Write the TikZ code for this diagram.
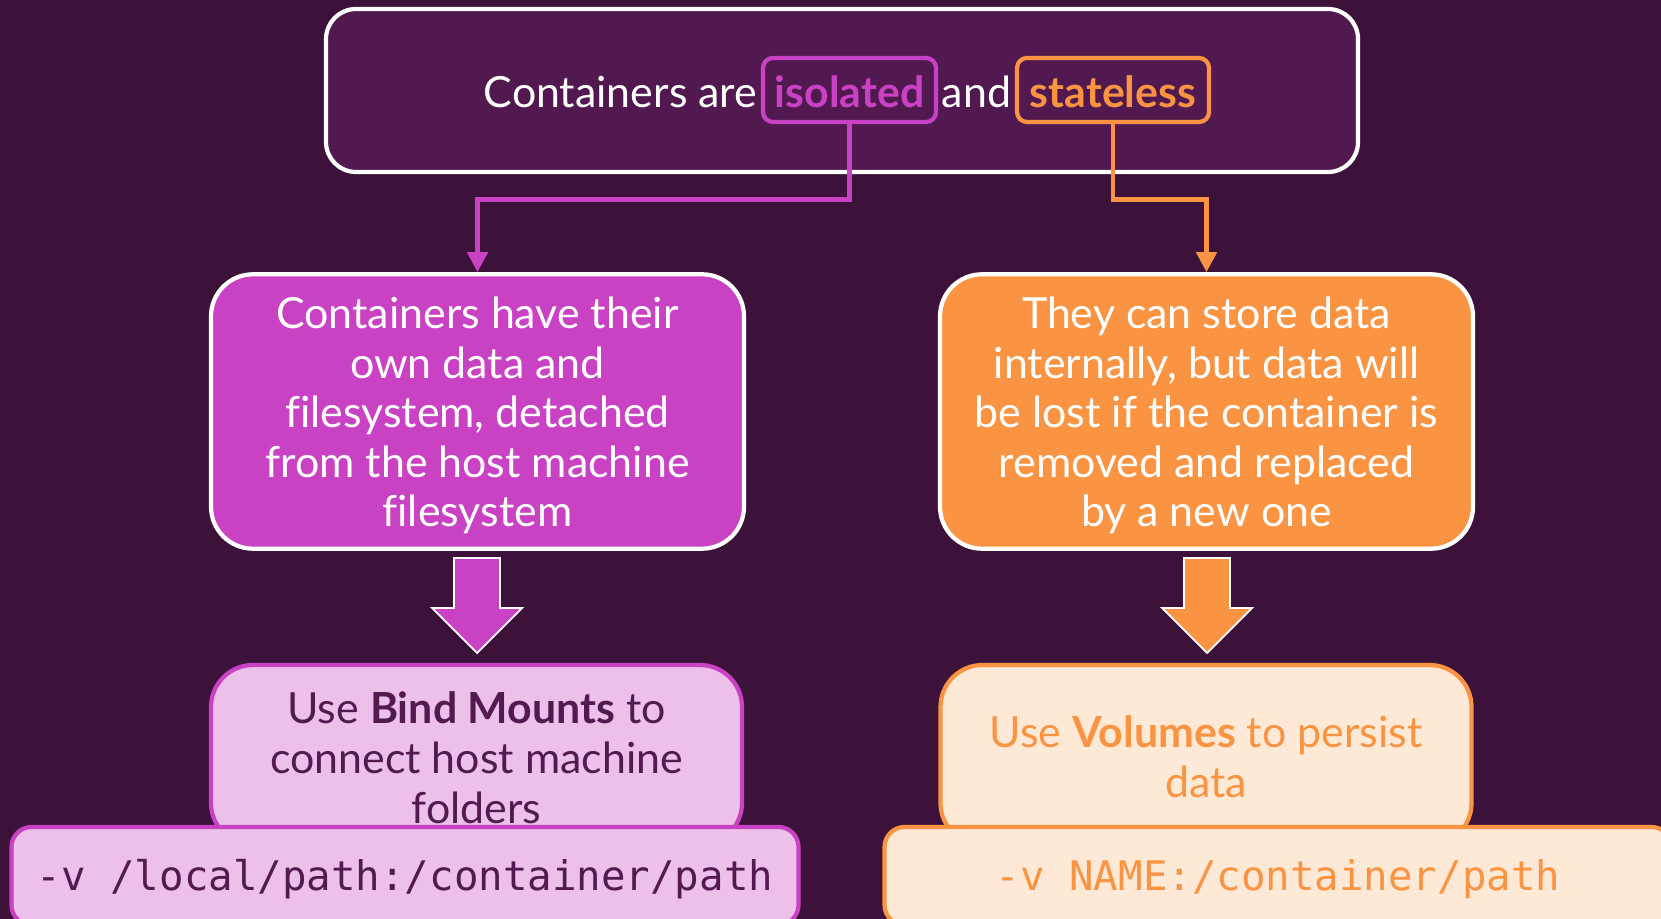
\documentclass[tikz,border=0pt]{standalone}
\usepackage{fontspec}
\setmainfont{Lato}[Ligatures={TeX,NoCommon}]
\setmonofont{DejaVu Sans Mono}
\usetikzlibrary{positioning,calc,arrows.meta}

\definecolor{bgpurple}{RGB}{60,18,58}
\definecolor{toppurple}{RGB}{82,25,80}
\definecolor{magC}{RGB}{202,66,196}
\definecolor{oraC}{RGB}{250,148,66}
\definecolor{magL}{RGB}{237,192,234}
\definecolor{oraL}{RGB}{254,232,214}
\definecolor{darkpurple}{RGB}{82,26,79}

\tikzset{
  bodyfont/.style={font=\fontsize{12.2}{14.1}\selectfont},
  wordbox/.style={draw=#1, text=#1, line width=1.2pt, rounded corners=0.1cm,
    minimum height=0.64cm, inner sep=0pt, text height=0.35cm, text depth=0cm,
    font=\fontsize{12.2}{14.1}\selectfont\bfseries},
  infobox/.style={fill=#1, draw=white, line width=1.2pt, rounded corners=0.42cm,
    minimum width=5.33cm, minimum height=2.71cm, align=center, text=white,
    text height=2.41cm, text depth=0.1cm, bodyfont},
  hintbox/.style={fill=#1L, draw=#1C, line width=1.2pt, rounded corners=0.42cm,
    minimum width=5.31cm, minimum height=1.8cm, align=center, text depth=0.1cm, bodyfont},
  codebox/.style={fill=#1L, draw=#1C, line width=1.2pt, rounded corners=0.2cm,
    minimum width=7.87cm, minimum height=0.98cm, text height=0.33cm, text depth=0.05cm,
    font=\fontsize{11.6}{14}\selectfont\ttfamily},
  link/.style={line width=1.3pt, -{Triangle[length=0.2cm,width=0.2cm]}}
}

\begin{document}
\begin{tikzpicture}
% Background
\useasboundingbox (0,0) rectangle (16.61,-9.19);
\fill[bgpurple] (0,0) rectangle (16.61,-9.19);
\clip (0,0) rectangle (16.61,-9.19);

% Title box
\node[draw=white, line width=1.2pt, fill=toppurple, rounded corners=0.3cm,
  minimum width=10.32cm, minimum height=1.63cm] (top) at (8.42,-0.905) {};
\node[wordbox=magC, minimum width=1.73cm] (iso) at (8.495,-0.90) {isolated};
\node[wordbox=oraC, minimum width=1.92cm] (sta) at (11.13,-0.90) {stateless};
\node[left=0.03cm of iso.base west, anchor=base east, text=white, inner sep=0pt, bodyfont] (lead) {Containers are};
\node[anchor=base, text=white, inner sep=0pt, bodyfont] (and) at ($(iso.base east)!0.5!(sta.base west)$) {and};

% Info boxes
\node[infobox=magC] (own) at (4.775,-4.115) {Containers have their\\own data and\\filesystem, detached\\from the host machine\\filesystem};
\node[infobox=oraC] (lost) at (12.065,-4.115) {They can store data\\internally, but data will\\be lost if the container is\\removed and replaced\\by a new one};

% Connectors
\coordinate (bendy) at (0,-1.995);
\draw[link, magC] (iso.south) -- (iso.south |- bendy) -| (own.north);
\draw[link, oraC] (sta.south) -- (sta.south |- bendy) -| (lost.north);

% Block arrows
\foreach \cx/\col in {4.77/magC, 12.07/oraC} {
  \draw[white, line width=0.5pt, fill=\col] (\cx-0.23,-5.58) -- (\cx+0.23,-5.58) -- (\cx+0.23,-6.08)
    -- (\cx+0.45,-6.08) -- (\cx,-6.53) -- (\cx-0.45,-6.08) -- (\cx-0.23,-6.08) -- cycle;
}

% Hint boxes
\node[hintbox=mag, text=darkpurple, text height=1.46cm] (bind) at (4.765,-7.55) {Use \textbf{Bind Mounts} to\\connect host machine\\folders};
\node[hintbox=ora, text=oraC, text height=0.94cm] (vol) at (12.06,-7.55) {Use \textbf{Volumes} to persist\\data};

% Flags
\node[codebox=mag, text=darkpurple] (bindcode) at (4.05,-8.76) {-v /local/path:/container/path};
\node[codebox=ora, text=oraC] (volcode) at (12.78,-8.76) {-v NAME:/container/path};

\end{tikzpicture}
\end{document}
